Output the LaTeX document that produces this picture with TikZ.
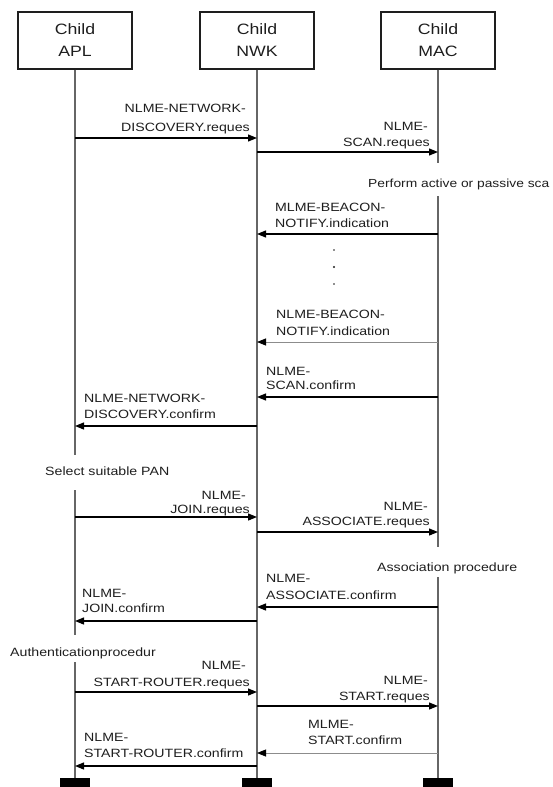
\documentclass[tikz,border=0pt]{standalone}
\usepackage{fontspec}
\setmainfont{Liberation Sans}[FakeStretch=1.18]
\usetikzlibrary{arrows.meta}
\definecolor{inkc}{HTML}{1E1E1E}
\definecolor{lifec}{HTML}{666666}
\definecolor{faintc}{HTML}{8C8C8C}
\begin{document}
\begin{tikzpicture}[x=1pt,y=-1pt,
  layer/.style={draw=inkc, line width=1.2pt, minimum width=114pt, minimum height=57pt,
    align=center, font=\fontsize{15}{22}\selectfont, text=inkc, inner sep=0pt},
  life/.style={draw=lifec, line width=1.5pt},
  msg/.style={draw=black, line width=1.2pt,
    -{Triangle[length=9pt,width=7pt,color=black,fill=black]}},
  faintmsg/.style={msg, draw=faintc, line width=0.8pt},
  lbl/.style={font=\fontsize{12}{16}\selectfont, text=inkc, inner sep=0pt},
  endbar/.style={fill=black, minimum width=30pt, minimum height=9pt, inner sep=0pt}
]
\useasboundingbox (0,0) rectangle (552,787);

% layer boxes
\node[layer] (apl) at (75,40.5) {Child\\APL};
\node[layer] (nwk) at (257,40.5) {Child\\NWK};
\node[layer] (mac) at (438,40.5) {Child\\MAC};

% end bars
\node[endbar] (aplEnd) at (75,782.5) {};
\node[endbar] (nwkEnd) at (257,782.5) {};
\node[endbar] (macEnd) at (438,782.5) {};

% lifelines, broken where a local procedure runs
\coordinate (aplA) at (75,455);  \coordinate (aplB) at (75,490);
\coordinate (aplC) at (75,635);  \coordinate (aplD) at (75,662);
\coordinate (macA) at (438,163); \coordinate (macB) at (438,196);
\coordinate (macC) at (438,547); \coordinate (macD) at (438,577);
\draw[life] (apl.south) -- (aplA);
\draw[life] (aplB) -- (aplC);
\draw[life] (aplD) -- (aplEnd.north);
\draw[life] (nwk.south) -- (nwkEnd.north);
\draw[life] (mac.south) -- (macA);
\draw[life] (macB) -- (macC);
\draw[life] (macD) -- (macEnd.north);

% local procedures
\node[lbl, font=\fontsize{11.7}{16}\selectfont, anchor=base west] (scanNote) at (368,187) {Perform active or passive sca};
\node[lbl, anchor=base west] (panNote) at (45,475) {Select suitable PAN};
\node[lbl, anchor=base west] (assocNote) at (377,571) {Association procedure};
\node[lbl, anchor=base west] (authNote) at (10,656) {Authenticationprocedur};

% 1 network discovery request
\coordinate (m1s) at (75,138); \coordinate (m1e) at (257,138);
\draw[msg] (m1s) -- (m1e);
\node[lbl, anchor=base east] (m1a) at (246,112) {NLME-NETWORK-};
\node[lbl, anchor=base east] (m1b) at (250,131) {DISCOVERY.reques};

% 2 scan request
\coordinate (m2s) at (257,152); \coordinate (m2e) at (438,152);
\draw[msg] (m2s) -- (m2e);
\node[lbl, anchor=base east] (m2a) at (428,130) {NLME-};
\node[lbl, anchor=base east] (m2b) at (430,146) {SCAN.reques};

% 3 beacon notify indication
\coordinate (m3s) at (438,234); \coordinate (m3e) at (257,234);
\draw[msg] (m3s) -- (m3e);
\node[lbl, anchor=base west] (m3a) at (275,211) {MLME-BEACON-};
\node[lbl, anchor=base west] (m3b) at (275,227) {NOTIFY.indication};

% repeated indications
\fill[inkc] (334,250) circle (0.9);
\fill[inkc] (334,267) circle (1.1);
\fill[inkc] (334,284) circle (0.9);

% 4 beacon notify indication (last)
\coordinate (m4s) at (438,342); \coordinate (m4e) at (257,342);
\draw[faintmsg] (m4s) -- (m4e);
\node[lbl, anchor=base west] (m4a) at (276,318) {NLME-BEACON-};
\node[lbl, anchor=base west] (m4b) at (276,335) {NOTIFY.indication};

% 5 scan confirm
\coordinate (m5s) at (438,397); \coordinate (m5e) at (257,397);
\draw[msg] (m5s) -- (m5e);
\node[lbl, anchor=base west] (m5a) at (266,375) {NLME-};
\node[lbl, anchor=base west] (m5b) at (266,389) {SCAN.confirm};

% 6 network discovery confirm
\coordinate (m6s) at (257,426); \coordinate (m6e) at (75,426);
\draw[msg] (m6s) -- (m6e);
\node[lbl, anchor=base west] (m6a) at (84,402) {NLME-NETWORK-};
\node[lbl, anchor=base west] (m6b) at (84,418) {DISCOVERY.confirm};

% 7 join request
\coordinate (m7s) at (75,517); \coordinate (m7e) at (257,517);
\draw[msg] (m7s) -- (m7e);
\node[lbl, anchor=base east] (m7a) at (246,499) {NLME-};
\node[lbl, anchor=base east] (m7b) at (250,513) {JOIN.reques};

% 8 associate request
\coordinate (m8s) at (257,532); \coordinate (m8e) at (438,532);
\draw[msg] (m8s) -- (m8e);
\node[lbl, anchor=base east] (m8a) at (428,510) {NLME-};
\node[lbl, anchor=base east] (m8b) at (430,525) {ASSOCIATE.reques};

% 9 associate confirm
\coordinate (m9s) at (438,607); \coordinate (m9e) at (257,607);
\draw[msg] (m9s) -- (m9e);
\node[lbl, anchor=base west] (m9a) at (266,582) {NLME-};
\node[lbl, anchor=base west] (m9b) at (266,599) {ASSOCIATE.confirm};

% 10 join confirm
\coordinate (m10s) at (257,621); \coordinate (m10e) at (75,621);
\draw[msg] (m10s) -- (m10e);
\node[lbl, anchor=base west] (m10a) at (82,597) {NLME-};
\node[lbl, anchor=base west] (m10b) at (82,612) {JOIN.confirm};

% 11 start router request
\coordinate (m11s) at (75,692); \coordinate (m11e) at (257,692);
\draw[msg] (m11s) -- (m11e);
\node[lbl, anchor=base east] (m11a) at (246,669) {NLME-};
\node[lbl, anchor=base east] (m11b) at (250,686) {START-ROUTER.reques};

% 12 start request
\coordinate (m12s) at (257,706); \coordinate (m12e) at (438,706);
\draw[msg] (m12s) -- (m12e);
\node[lbl, anchor=base east] (m12a) at (428,684) {NLME-};
\node[lbl, anchor=base east] (m12b) at (430,700) {START.reques};

% 13 start confirm
\coordinate (m13s) at (438,753); \coordinate (m13e) at (257,753);
\draw[faintmsg] (m13s) -- (m13e);
\node[lbl, anchor=base west] (m13a) at (308,728) {MLME-};
\node[lbl, anchor=base west] (m13b) at (308,744) {START.confirm};

% 14 start router confirm
\coordinate (m14s) at (257,766); \coordinate (m14e) at (75,766);
\draw[msg] (m14s) -- (m14e);
\node[lbl, anchor=base west] (m14a) at (84,741) {NLME-};
\node[lbl, anchor=base west] (m14b) at (84,757) {START-ROUTER.confirm};
\end{tikzpicture}
\end{document}
